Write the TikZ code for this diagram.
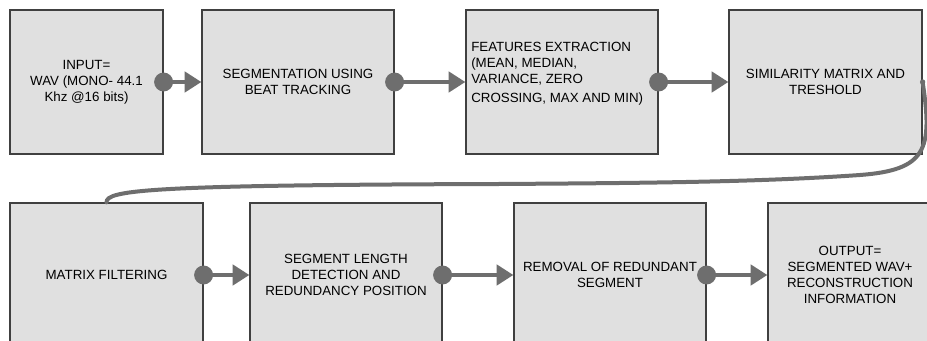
\documentclass[tikz,border=0pt]{standalone}
\usepackage{fontspec}
\setmainfont{Liberation Sans}
\usetikzlibrary{arrows.meta}
\definecolor{boxfill}{HTML}{E0E0E0}
\definecolor{boxline}{HTML}{404040}
\definecolor{flowgray}{HTML}{6E6E6E}
\begin{document}
\begin{tikzpicture}[x=0.75pt,y=-0.75pt,
  stage/.style={draw=boxline, fill=boxfill, line width=0.9pt, inner sep=0pt,
    minimum height=144*0.75pt, align=center,
    font=\fontsize{10}{12}\selectfont},
  flow/.style={draw=flowgray, line width=3.6pt,
    -{Triangle[length=12.5pt,width=15pt]}},
  knob/.style={fill=flowgray},
  link/.style={draw=flowgray, line width=3pt, line cap=round}]
\useasboundingbox (0,0) rectangle (927,341);
\clip (0,0) rectangle (927,341);
\fill[white] (0,0) rectangle (927,341);

% top row
\node[stage, minimum width=153*0.75pt] (b1) at (86.5,82)
  {INPUT=\\WAV (MONO- 44.1\\Khz @16 bits)};
\node[stage, minimum width=192*0.75pt] (b2) at (298,82)
  {SEGMENTATION USING\\BEAT TRACKING};
\node[stage, minimum width=192*0.75pt] (b3) at (562,82) {};
\node[anchor=west, align=left, inner sep=0pt,
  font=\fontsize{10}{12}\selectfont] (t3) at (471,74)
  {FEATURES EXTRACTION\\(MEAN, MEDIAN,\\VARIANCE, ZERO\\[2.5pt]CROSSING, MAX AND MIN)};
\node[stage, minimum width=193*0.75pt] (b4) at (825.5,82)
  {SIMILARITY MATRIX AND\\TRESHOLD};

% bottom row
\node[stage, minimum width=193*0.75pt] (b5) at (106.5,275)
  {MATRIX FILTERING};
\node[stage, minimum width=192*0.75pt] (b6) at (346,275)
  {SEGMENT LENGTH\\DETECTION AND\\REDUNDANCY POSITION};
\node[stage, minimum width=192*0.75pt] (b7) at (610,275)
  {REMOVAL OF REDUNDANT\\SEGMENT};
\node[stage, minimum width=164*0.75pt] (b8) at (850,275)
  {OUTPUT=\\SEGMENTED WAV+\\RECONSTRUCTION\\INFORMATION};

% straight connectors
\foreach \a/\b in {b1/b2, b2/b3, b3/b4, b5/b6, b6/b7, b7/b8} {
  \draw[flow] (\a.east) -- (\b.west);
  \fill[knob] (\a.east) circle (7.1pt);
}

% wrap-around link from the first row to the second
\draw[link] (b4.east)
  .. controls (933,150) and (926,170) .. (860,175)
  .. controls (760,182) and (650,183) .. (500,184)
  .. controls (150,185) and (106,190) .. (b5.north);
\fill[knob] (b4.east) circle (2pt);
\end{tikzpicture}
\end{document}
